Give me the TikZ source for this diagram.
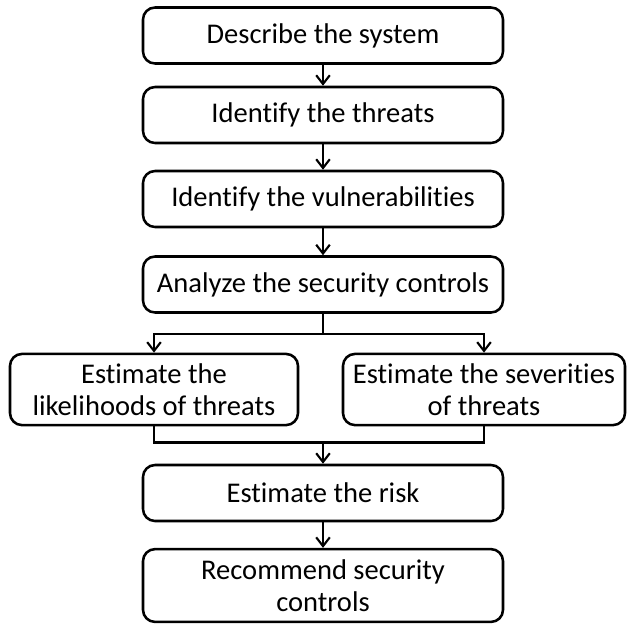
\documentclass[tikz,border=0pt]{standalone}
\usepackage{fontspec}
\setmainfont{Carlito}[Ligatures={NoCommon}]
\usetikzlibrary{%
  arrows.meta,%
  positioning,% wg. " of "
  calc%
}

\tikzset{
  stepbox/.style={draw=black, rounded corners=0.3cm, align=center,
    minimum width=9cm, minimum height=1.4cm, inner sep=0pt},
  halfbox/.style={stepbox, minimum height=1.78cm}
}

\begin{document}
\begin{tikzpicture}
  [font=\fontsize{20.3}{22.8}\selectfont, line width=1.8pt, draw=black,
   >={Straight Barb[length=2.2mm, width=3.4mm, line width=1.5pt]}]

\useasboundingbox (0,0) rectangle (15.675,-15.575);

\node[stepbox] (describe) at (8.075,-0.8875) {Describe the system};
\node[stepbox] (threats) at (8.075,-2.875) {Identify the threats};
\node[stepbox] (vuln) at (8.075,-4.975) {Identify the vulnerabilities};
\node[stepbox] (controls) at (8.075,-7.1125) {Analyze the security controls};

\node[halfbox, minimum width=7.2cm] (likely) at (3.85,-9.7375) {Estimate the\\likelihoods of threats};
\node[halfbox, minimum width=7.05cm] (severe) at (12.1,-9.7375) {Estimate the severities\\of threats};

\node[stepbox] (risk) at (8.075,-12.325) {Estimate the risk};
\node[stepbox, minimum height=1.82cm] (recommend) at (8.075,-14.6375) {Recommend security\\controls};

\draw[->] (describe) -- (threats);
\draw[->] (threats) -- (vuln);
\draw[->] (vuln) -- (controls);

% split and merge
\coordinate (split) at ($(controls.south)+(0,-0.5)$);
\coordinate (merge) at ($(risk.north)+(0,0.525)$);
\draw (controls.south) -- (split);
\draw[->] (split) -| (likely.north);
\draw[->] (split) -| (severe.north);
\draw (likely.south) |- (merge);
\draw (severe.south) |- (merge);
\draw[->] (merge) -- (risk.north);

\draw[->] (risk) -- (recommend);
\end{tikzpicture}
\end{document}
